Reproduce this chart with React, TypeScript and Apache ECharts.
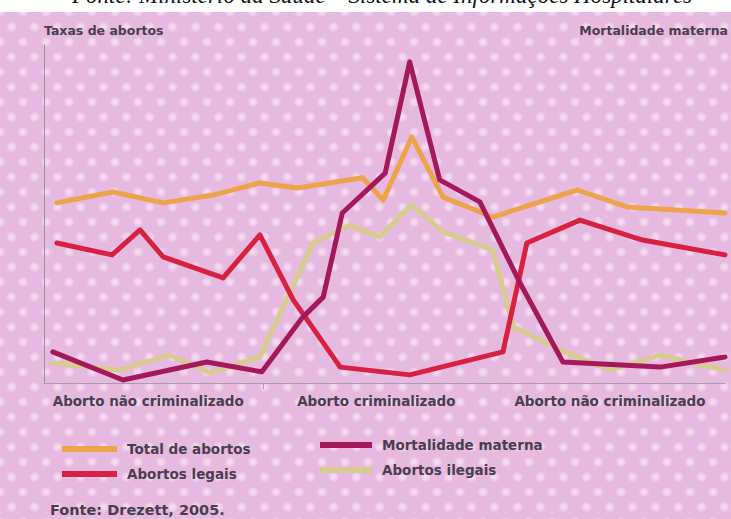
import React, { useEffect, useRef } from "react";
import * as echarts from "echarts";

// Position along the period (0–100) and rate values (0–100, relative scale)
const totalX = [1.9, 10.1, 17.5, 24.8, 31.7, 37.2, 46.8, 49.8, 54.0, 58.6, 65.9, 78.3, 85.6, 100];
const totalY = [53.3, 56.5, 53.3, 55.6, 59.2, 57.7, 60.7, 54.1, 72.8, 55.0, 49.1, 57.1, 52.1, 50.3];

const legaisX = [1.9, 10.0, 14.1, 17.5, 26.3, 31.7, 36.6, 43.5, 53.7, 67.4, 70.9, 78.7, 87.9, 100];
const legaisY = [41.4, 37.9, 45.3, 37.3, 31.1, 43.8, 24.6, 4.7, 2.4, 9.2, 41.4, 48.2, 42.3, 37.9];

const maternaX = [1.3, 11.6, 23.9, 32.0, 38.0, 41.0, 43.8, 50.1, 53.7, 58.1, 64.0, 69.9, 76.2, 90.5, 100];
const maternaY = [9.2, 0.9, 6.2, 3.3, 19.5, 25.4, 50.3, 62.1, 95.0, 60.1, 53.6, 29.6, 6.2, 4.7, 7.7];

const ilegaisX = [1.3, 11.0, 18.5, 24.4, 31.7, 35.1, 39.5, 44.9, 49.3, 54.0, 58.6, 65.9, 68.9, 75.8, 83.1, 90.5, 100];
const ilegaisY = [5.9, 3.8, 8.3, 3.0, 7.7, 22.5, 41.4, 46.7, 43.2, 52.7, 44.7, 39.3, 16.6, 9.8, 3.8, 8.3, 3.8];

const regionPos = [15.3, 48.8, 83.1];
const regionLabels = ["Aborto não criminalizado", "Aborto criminalizado", "Aborto não criminalizado"];
const regionBoundary = [32.2];

const seriesNames = ["Total de abortos", "Abortos legais", "Mortalidade materna", "Abortos ilegais"];

const pair = (xs: number[], ys: number[]) => xs.map((x, i) => [x, ys[i]]);

const FONT = "'DejaVu Sans', 'Liberation Sans', sans-serif";
const TXT = "#4a3d4e";

export default function App() {
  const ref = useRef<HTMLDivElement>(null);

  useEffect(() => {
    if (!ref.current) return;
    const chart = echarts.init(ref.current, null, { renderer: "svg" });
    const lineBase = { type: "line", symbol: "none", smooth: false, z: 2 } as any;
    const legendText = { fontFamily: FONT, fontSize: 13.5, fontWeight: "bold", color: TXT, padding: [0, 0, 0, 5] };
    chart.setOption({
      animation: false,
      backgroundColor: "transparent",
      grid: { left: 44, right: 6, top: 45, bottom: 136 },
      xAxis: {
        type: "value",
        min: 0,
        max: 100,
        axisLine: { show: true, lineStyle: { color: "#a89cb0", width: 1 } },
        axisTick: { show: true, customValues: regionBoundary, length: 6, lineStyle: { color: "#a89cb0" } },
        axisLabel: {
          show: true,
          customValues: regionPos,
          margin: 11,
          fontFamily: FONT,
          fontSize: 13.5,
          fontWeight: "bold",
          color: TXT,
          formatter: (v: number) => {
            const i = regionPos.indexOf(v);
            return i >= 0 ? regionLabels[i] : "";
          },
        },
        splitLine: { show: false },
      },
      yAxis: [
        {
          type: "value",
          min: 0,
          max: 100,
          name: "Taxas de abortos",
          nameLocation: "end",
          nameGap: 8,
          nameTextStyle: { align: "left", fontFamily: FONT, fontSize: 12.5, fontWeight: "bold", color: TXT },
          axisLine: { show: true, lineStyle: { color: "#9a8fa0", width: 1 } },
          axisTick: { show: false },
          axisLabel: { show: false },
          splitLine: { show: false },
        },
        {
          type: "value",
          position: "right",
          min: 0,
          max: 100,
          name: "Mortalidade materna",
          nameLocation: "end",
          nameGap: 8,
          nameTextStyle: { align: "right", fontFamily: FONT, fontSize: 12.5, fontWeight: "bold", color: TXT, padding: [0, -3, 0, 0] },
          axisLine: { show: false },
          axisTick: { show: false },
          axisLabel: { show: false },
          splitLine: { show: false },
        },
      ],
      legend: [
        {
          data: [seriesNames[0], seriesNames[1]],
          orient: "vertical",
          left: 57,
          top: 437,
          icon: "rect",
          itemWidth: 55,
          itemHeight: 6,
          itemGap: 11,
          textStyle: legendText,
        },
        {
          data: [seriesNames[2], seriesNames[3]],
          orient: "vertical",
          left: 315,
          top: 433,
          icon: "rect",
          itemWidth: 52,
          itemHeight: 6,
          itemGap: 11,
          textStyle: legendText,
        },
      ],
      graphic: [
        {
          type: "text",
          left: 50,
          top: 502,
          style: {
            text: "Fonte: Drezett, 2005.",
            fontFamily: FONT,
            fontSize: 14.5,
            fontWeight: "bold",
            fill: TXT,
          },
        },
      ],
      series: [
        {
          ...lineBase,
          name: seriesNames[3],
          color: "#d8cb8f",
          lineStyle: { color: "#d8cb8f", width: 5, cap: "round", join: "round" },
          data: pair(ilegaisX, ilegaisY),
        },
        {
          ...lineBase,
          name: seriesNames[0],
          color: "#eca44a",
          lineStyle: { color: "#eca44a", width: 5, cap: "round", join: "round" },
          data: pair(totalX, totalY),
        },
        {
          ...lineBase,
          name: seriesNames[1],
          color: "#d82040",
          lineStyle: { color: "#d82040", width: 5, cap: "round", join: "round" },
          data: pair(legaisX, legaisY),
        },
        {
          ...lineBase,
          name: seriesNames[2],
          yAxisIndex: 1,
          color: "#a4185c",
          lineStyle: { color: "#a4185c", width: 5, cap: "round", join: "round" },
          data: pair(maternaX, maternaY),
        },
      ],
    });
    return () => chart.dispose();
  }, []);

  const dot = "radial-gradient(circle, rgba(252,238,250,0.7) 0px, rgba(252,238,250,0.45) 3px, rgba(252,238,250,0) 5.5px)";

  return (
    <div style={{ position: "fixed", left: 0, top: 0, width: 731, height: 519, overflow: "hidden", background: "#ffffff" }}>
      <div
        style={{
          position: "absolute",
          left: 0,
          top: 12,
          width: 731,
          height: 507,
          backgroundColor: "#e6b9e0",
          backgroundImage: `${dot}, ${dot}`,
          backgroundSize: "23px 30px, 23px 30px",
          backgroundPosition: "0px 0px, 11.5px 15px",
        }}
      />
      <div
        style={{
          position: "absolute",
          left: 0,
          top: 0,
          width: 731,
          height: 12,
          background: "#ffffff",
          overflow: "hidden",
        }}
      >
        <span
          style={{
            position: "absolute",
            left: 72,
            top: -17,
            whiteSpace: "nowrap",
            fontFamily: "'Liberation Serif', 'DejaVu Serif', serif",
            fontStyle: "italic",
            fontSize: 23,
            color: "#111",
          }}
        >
          Fonte: Ministério da Saúde – Sistema de Informações Hospitalares
        </span>
      </div>
      <div ref={ref} style={{ position: "absolute", left: 0, top: 0, width: 731, height: 519 }} />
    </div>
  );
}
